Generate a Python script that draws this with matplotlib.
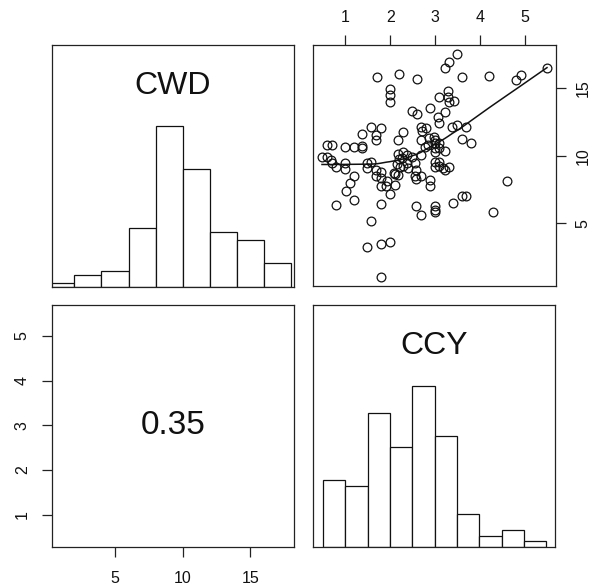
import numpy as np
import matplotlib
matplotlib.use("Agg")
from matplotlib import pyplot as plt

plt.rcParams["font.family"] = ["Liberation Sans", "DejaVu Sans"]

# (x = CCY, y = CWD)
ccy = [3.48, 3.30, 3.21, 2.20, 1.70, 2.59, 3.59, 4.19, 4.79, 4.90, 5.49,
       1.99, 1.99, 1.99, 3.29, 3.29, 3.31, 3.42, 3.08, 2.49, 2.59, 2.89,
       3.21, 3.07, 3.08, 3.38, 3.49, 3.69, 1.58, 1.79, 1.68, 1.68, 1.38,
       2.29, 2.18, 2.68, 2.70, 2.79, 2.68, 2.87, 2.97, 2.99, 3.08, 2.83,
       2.77, 3.60, 3.80, 0.59, 0.70, 0.99, 1.19, 1.38, 1.38, 0.48, 0.59,
       0.69, 0.70, 0.80, 0.99, 0.99, 1.49, 1.49, 1.58, 1.68, 1.79, 1.68,
       1.80, 1.92, 1.79, 1.90, 2.08, 2.11, 1.99, 1.20, 1.10, 1.01, 1.19,
       0.80, 1.79, 1.58, 1.49, 1.79, 1.99, 1.79,
       2.18, 2.29, 2.38, 2.48, 2.20, 2.27, 2.16, 2.22, 2.29, 2.37, 2.40,
       2.11, 2.18, 2.56, 2.58, 2.56, 2.68, 2.68, 2.88, 2.88, 2.58,
       2.99, 2.99, 2.99, 3.08, 3.21,
       2.99, 3.08, 2.99, 3.09, 3.18, 3.22, 3.30,
       2.58, 2.69, 2.99, 2.99, 2.99, 3.39, 3.60, 3.69, 4.59, 4.29]
cwd = [17.56, 16.96, 16.54, 16.07, 15.83, 15.73, 15.83, 15.93, 15.63, 15.98, 16.49,
       14.98, 14.52, 14.02, 14.80, 14.40, 14.00, 14.07, 14.35, 13.36, 13.11, 13.53,
       13.23, 12.91, 12.42, 12.17, 12.30, 12.17, 12.17, 12.10, 11.56, 11.14, 11.60,
       11.75, 11.14, 12.17, 11.88, 12.05, 11.19, 11.36, 11.43, 11.19, 10.94, 10.81,
       10.69, 11.23, 10.94, 10.81, 10.77, 10.64, 10.69, 10.74, 10.57, 9.88, 9.95,
       9.70, 9.46, 9.21, 9.46, 9.04, 9.46, 9.09, 9.58, 8.96, 8.84, 8.47,
       8.35, 8.10, 7.73, 7.73, 8.72, 7.85, 7.16, 8.54, 8.02, 7.36, 6.74,
       6.32, 6.44, 5.19, 3.23, 3.46, 3.58, 1.01,
       10.15, 10.32, 10.07, 9.95, 9.75, 9.83, 9.41, 9.21, 9.26, 9.46, 9.09,
       8.67, 8.57, 9.46, 8.96, 8.54, 8.47, 10.07, 8.22, 7.80, 8.30,
       10.94, 10.57, 10.32, 10.57, 10.37,
       9.58, 9.58, 9.21, 9.26, 9.09, 8.96, 9.21,
       6.25, 5.63, 6.25, 6.00, 5.83, 6.49, 6.99, 6.99, 8.10, 5.80]

# histogram counts
cwd_breaks = [0, 2, 4, 6, 8, 10, 12, 14, 16, 18]
cwd_counts = [1, 3, 4, 15, 41, 30, 14, 12, 6]
ccy_breaks = [0.5, 1.0, 1.5, 2.0, 2.5, 3.0, 3.5, 4.0, 4.5, 5.0, 5.5]
ccy_counts = [12, 11, 24, 18, 29, 20, 6, 2, 3, 1]

r_value = "0.35"


def lowess(x, y, f=2 / 3, iters=3):
    order = np.argsort(x, kind="stable")
    x = np.asarray(x, float)[order]
    y = np.asarray(y, float)[order]
    n = len(x)
    ns = max(min(int(f * n + 1e-7), n), 2)
    rw = np.ones(n)
    fit = np.zeros(n)
    for it in range(iters + 1):
        for i in range(n):
            d = np.abs(x - x[i])
            h = np.sort(d)[ns - 1]
            u = np.clip(d / h, 0, 1) if h > 0 else (d > 0).astype(float)
            w = (1 - u ** 3) ** 3 * rw
            sw = w.sum()
            xm = (w * x).sum() / sw
            ym = (w * y).sum() / sw
            sxx = (w * (x - xm) ** 2).sum()
            b = (w * (x - xm) * (y - ym)).sum() / sxx if sxx > 1e-12 else 0.0
            fit[i] = ym + b * (x[i] - xm)
        if it == iters:
            break
        res = y - fit
        s = np.median(np.abs(res))
        if s == 0:
            break
        u = np.clip(res / (6 * s), -1, 1)
        rw = (1 - u ** 2) ** 2
    return x, fit


def r_range(v):
    lo, hi = min(v), max(v)
    pad = 0.04 * (hi - lo)
    return lo - pad, hi + pad


W, H = 597, 586
fig = plt.figure(figsize=(W / 100, H / 100), dpi=100, facecolor="white")


def panel(l, t, r, b):
    ax = fig.add_axes([l / W, 1 - b / H, (r - l) / W, (b - t) / H])
    for sp in ax.spines.values():
        sp.set_color("#222222")
        sp.set_linewidth(0.9)
    ax.tick_params(length=7, width=0.9, color="#222222", labelsize=11.5,
                   pad=7, labelcolor="#111111")
    return ax


xlim_cwd = r_range(cwd)
xlim_ccy = r_range(ccy)


def hist_panel(ax, breaks, counts, lim, label):
    h = np.array(counts, float) / max(counts)
    ax.bar(breaks[:-1], h, width=np.diff(breaks), align="edge",
           color="white", edgecolor="#111111", linewidth=0.9)
    ax.set_xlim(lim)
    ax.set_ylim(0, 1.5)
    ax.set_xticks([])
    ax.set_yticks([])
    ax.text(0.5, 0.83, label, transform=ax.transAxes, ha="center",
            va="center", fontsize=23, color="#111111")


ax_tl = panel(52, 45, 294, 287)
hist_panel(ax_tl, cwd_breaks, cwd_counts, xlim_cwd, "CWD")

ax_tr = panel(313, 45, 556, 286)
ax_tr.plot(ccy, cwd, "o", mfc="none", mec="#111111", ms=6.3, mew=0.9)
lx, ly = lowess(ccy, cwd)
ax_tr.plot(lx, ly, color="#111111", lw=1.1)
ax_tr.set_xlim(xlim_ccy)
ax_tr.set_ylim(xlim_cwd)
ax_tr.xaxis.tick_top()
ax_tr.yaxis.tick_right()
ax_tr.set_xticks([1, 2, 3, 4, 5])
ax_tr.set_yticks([5, 10, 15])
ax_tr.tick_params(axis="x", pad=7.5)
ax_tr.tick_params(axis="y", labelrotation=90, pad=7)
for t in ax_tr.get_yticklabels():
    t.set_va("center")

ax_bl = panel(52, 305, 294, 547)
ax_bl.set_xlim(xlim_cwd)
ax_bl.set_ylim(xlim_ccy)
ax_bl.set_xticks([5, 10, 15])
ax_bl.set_yticks([1, 2, 3, 4, 5])
ax_bl.tick_params(axis="x", pad=10)
ax_bl.tick_params(axis="y", labelrotation=90, pad=9)
for t in ax_bl.get_yticklabels():
    t.set_va("center")
ax_bl.text(0.5, 0.5, r_value, transform=ax_bl.transAxes, ha="center",
           va="center", fontsize=24, color="#111111")

ax_br = panel(313, 305, 555, 547)
hist_panel(ax_br, ccy_breaks, ccy_counts, xlim_ccy, "CCY")

fig.savefig("out.png", dpi=100, facecolor="white")
plt.close(fig)
